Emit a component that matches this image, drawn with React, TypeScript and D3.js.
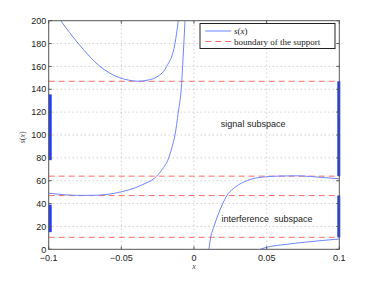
import * as d3 from "d3"

// curve branches of s(x)
const branchUpper: [number, number][] = [
  [-0.0917, 200], [-0.0796, 180], [-0.0647, 160], [-0.051, 150], [-0.045, 148],
  [-0.0383, 147], [-0.032, 148], [-0.0268, 150], [-0.0188, 160], [-0.0131, 180], [-0.0108, 200],
]
const branchPole: [number, number][] = [
  [-0.1, 49], [-0.09, 47.8], [-0.08, 47.2], [-0.07, 47.2], [-0.06, 48], [-0.05, 50.3],
  [-0.04, 54], [-0.033, 58], [-0.029, 60.5], [-0.0257, 64], [-0.021, 71.5], [-0.018, 78],
  [-0.015, 90], [-0.0131, 100], [-0.0108, 120], [-0.0085, 145], [-0.0075, 168], [-0.0062, 200],
]
const branchRight: [number, number][] = [
  [0.0103, 0], [0.0115, 10.5], [0.0137, 19.8], [0.0165, 30], [0.0197, 39.7], [0.0225, 46.8],
  [0.027, 53], [0.0328, 58], [0.04, 61.6], [0.0492, 63.4], [0.06, 64.1], [0.07, 64.3],
  [0.08, 63.7], [0.09, 62.7], [0.1, 61.7],
]
const branchLow: [number, number][] = [
  [0.0455, 0], [0.05, 1.8], [0.06, 3.8], [0.07, 5.3], [0.08, 6.7], [0.09, 7.9], [0.1, 9],
]
const branches = [branchUpper, branchPole, branchRight, branchLow]

const boundaries = [147, 64, 47, 10.5]
const leftBars: [number, number][] = [[78, 135.5], [15, 39]]
const rightBars: [number, number][] = [[64, 147], [10.5, 47]]

const xTicks = [-0.1, -0.05, 0, 0.05, 0.1]
const yTicks = [0, 20, 40, 60, 80, 100, 120, 140, 160, 180, 200]

const W = 374
const H = 281
const left = 48.7, right = 339.3, top = 20.7, bottom = 249.3

export default function App() {
  const x = d3.scaleLinear().domain([-0.1, 0.1]).range([left, right])
  const y = d3.scaleLinear().domain([0, 200]).range([bottom, top])
  const line = d3.line<[number, number]>()
    .x(d => x(d[0]))
    .y(d => y(d[1]))
    .curve(d3.curveMonotoneX)

  const sans = "'Liberation Sans', Arial, sans-serif"
  const serif = "'Liberation Serif', 'Times New Roman', serif"
  const fmt = (v: number) => (v === 0 ? "0" : String(v).replace("-", "−"))

  return (
    <svg width={W} height={H} style={{ position: "absolute", left: 0, top: 0, background: "#fff" }}>
      <defs>
        <clipPath id="plot">
          <rect x={left} y={top} width={right - left} height={bottom - top} />
        </clipPath>
      </defs>

      {/* dotted grid */}
      {xTicks.slice(1, -1).map(t => (
        <line key={"gx" + t} x1={x(t)} x2={x(t)} y1={top} y2={bottom}
          stroke="#aaa" strokeWidth={0.8} strokeDasharray="1,3" />
      ))}
      {yTicks.slice(1, -1).map(t => (
        <line key={"gy" + t} x1={left} x2={right} y1={y(t)} y2={y(t)}
          stroke="#aaa" strokeWidth={0.8} strokeDasharray="1,3" />
      ))}

      <g clipPath="url(#plot)">
        {boundaries.map(b => (
          <line key={"b" + b} x1={left} x2={right} y1={y(b)} y2={y(b)}
            stroke="#ff6a6a" strokeWidth={1} strokeDasharray="6,4" />
        ))}
        {branches.map((br, i) => (
          <path key={"c" + i} d={line(br) || ""} fill="none" stroke="#6d85ff" strokeWidth={1} />
        ))}
      </g>

      {/* support bars */}
      {leftBars.map((b, i) => (
        <line key={"lb" + i} x1={left + 1.5} x2={left + 1.5} y1={y(b[0])} y2={y(b[1])}
          stroke="#1f3cff" strokeWidth={3} />
      ))}
      {rightBars.map((b, i) => (
        <line key={"rb" + i} x1={right - 0.5} x2={right - 0.5} y1={y(b[0])} y2={y(b[1])}
          stroke="#1f3cff" strokeWidth={3} />
      ))}

      {/* axes box */}
      <rect x={left} y={top} width={right - left} height={bottom - top}
        fill="none" stroke="#555" strokeWidth={1} />
      {xTicks.map(t => (
        <g key={"tx" + t}>
          <line x1={x(t)} x2={x(t)} y1={bottom} y2={bottom - 3} stroke="#555" />
          <line x1={x(t)} x2={x(t)} y1={top} y2={top + 3} stroke="#555" />
          <text x={x(t)} y={261} fontSize={9} fontFamily={sans} textAnchor="middle" fill="#222">
            {fmt(t)}
          </text>
        </g>
      ))}
      {yTicks.map(t => (
        <g key={"ty" + t}>
          <line x1={left} x2={left + 3} y1={y(t)} y2={y(t)} stroke="#555" />
          <line x1={right} x2={right - 3} y1={y(t)} y2={y(t)} stroke="#555" />
          <text x={left - 2.5} y={y(t) + 3.2} fontSize={9} fontFamily={sans} textAnchor="end" fill="#222">
            {t}
          </text>
        </g>
      ))}

      {/* axis labels */}
      <text x={x(0)} y={268.5} fontSize={8} fontFamily={serif} fontStyle="italic" textAnchor="middle" fill="#444">x</text>
      <text transform={`translate(25,${y(98)}) rotate(-90)`} fontSize={8} fontFamily={serif}
        textAnchor="middle" fill="#444">
        <tspan fontStyle="italic">s</tspan>(<tspan fontStyle="italic">x</tspan>)
      </text>

      {/* annotations */}
      <text x={x(0.0407)} y={y(110) + 3} fontSize={9} fontFamily={sans} textAnchor="middle" fill="#222">
        signal subspace
      </text>
      <text x={x(0.0502)} y={y(26.6) + 3} fontSize={9} fontFamily={sans} textAnchor="middle" fill="#222"
        style={{ whiteSpace: "pre" }}>
        {"interference  subspace"}
      </text>

      {/* legend */}
      <rect x={200} y={23.5} width={135} height={25} fill="#fff" stroke="#222" strokeWidth={1} />
      <line x1={205.3} x2={231.3} y1={31} y2={31} stroke="#6d85ff" strokeWidth={1} />
      <line x1={205.3} x2={231.3} y1={41.5} y2={41.5} stroke="#ff6a6a" strokeWidth={1} strokeDasharray="6,4" />
      <text x={234} y={34} fontSize={9} fontFamily={serif} fill="#222">
        <tspan fontStyle="italic">s</tspan>(<tspan fontStyle="italic">x</tspan>)
      </text>
      <text x={234} y={44.5} fontSize={9} fontFamily={serif} fill="#222">boundary of the support</text>
    </svg>
  )
}
